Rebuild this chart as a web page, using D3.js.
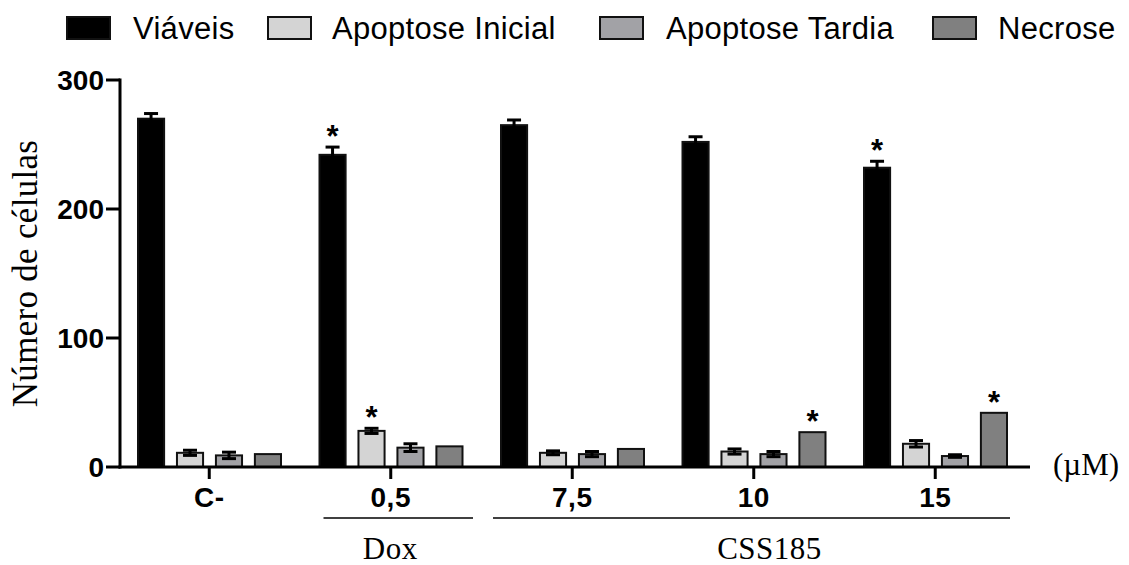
<!DOCTYPE html>
<html>
<head>
<meta charset="utf-8">
<script src="https://cdn.jsdelivr.net/npm/d3@7"></script>
<style>
  body { margin: 0; background: #fff; }
  svg { display: block; }
</style>
</head>
<body>
<div id="chart"></div>
<script>
// groups (concentration, µM) and series
const groups  = ["C-", "0,5", "7,5", "10", "15"];
const series  = ["Viáveis", "Apoptose Inicial", "Apoptose Tardia", "Necrose"];

// mean values per series, one per group
const viaveis      = [270, 242, 265, 252, 232];
const viaveisErr   = [4, 6, 4, 4, 5];
const inicial      = [11, 28, 11, 12, 18];
const inicialErr   = [2, 2, 1.5, 2, 2.5];
const tardia       = [9, 15, 10, 10, 8.5];
const tardiaErr    = [2.5, 3, 2, 2, 1];
const necrose      = [10, 16, 14, 27, 42];
const necroseErr   = [0, 0, 0, 0, 0];

// significance marks: [group, series]
const stars = [["0,5", "Viáveis"], ["0,5", "Apoptose Inicial"], ["10", "Necrose"],
               ["15", "Viáveis"], ["15", "Necrose"]];

const yTicks = [0, 100, 200, 300];

const colors = {
  "Viáveis": "#000000",
  "Apoptose Inicial": "#d4d4d4",
  "Apoptose Tardia": "#a2a2a6",
  "Necrose": "#808080"
};

const values = { "Viáveis": viaveis, "Apoptose Inicial": inicial, "Apoptose Tardia": tardia, "Necrose": necrose };
const errors = { "Viáveis": viaveisErr, "Apoptose Inicial": inicialErr, "Apoptose Tardia": tardiaErr, "Necrose": necroseErr };

const rows = [];
groups.forEach((g, i) => {
  series.forEach(s => rows.push({ group: g, series: s, value: values[s][i], err: errors[s][i] }));
});

const W = 1129, H = 565;
const svg = d3.select("#chart").append("svg")
  .attr("width", W).attr("height", H);

const SANS  = "'Liberation Sans', Arial, sans-serif";
const SERIF = "'Liberation Serif', 'Times New Roman', serif";

// scales
const x0 = d3.scaleBand().domain(groups).range([118.5, 1026]).padding(0);
const x1 = d3.scaleBand().domain(series).range([19.5, 162.5]).paddingInner(0.33);
const y  = d3.scaleLinear().domain([0, 300]).range([467, 80]);

const axisX0 = 120, axisXEnd = 1030;

// bars
svg.append("g")
  .selectAll("rect")
  .data(rows)
  .join("rect")
    .attr("x", d => x0(d.group) + x1(d.series))
    .attr("y", d => y(d.value))
    .attr("width", x1.bandwidth())
    .attr("height", d => y(0) - y(d.value))
    .attr("fill", d => colors[d.series])
    .attr("stroke", "#111")
    .attr("stroke-width", 2);

// error bars
const eb = svg.append("g").attr("stroke", "#000").attr("stroke-width", 3);
rows.filter(d => d.err > 0).forEach(d => {
  const cx = x0(d.group) + x1(d.series) + x1.bandwidth() / 2;
  const top = y(d.value + d.err), bot = y(d.value - d.err);
  eb.append("line").attr("x1", cx).attr("x2", cx).attr("y1", top).attr("y2", bot);
  eb.append("line").attr("x1", cx - 7).attr("x2", cx + 7).attr("y1", top).attr("y2", top);
  eb.append("line").attr("x1", cx - 7).attr("x2", cx + 7).attr("y1", bot).attr("y2", bot);
});

// stars
svg.append("g")
  .selectAll("text")
  .data(stars)
  .join("text")
    .attr("x", d => x0(d[0]) + x1(d[1]) + x1.bandwidth() / 2)
    .attr("y", d => {
      const r = rows.find(r => r.group === d[0] && r.series === d[1]);
      return y(r.value + r.err);
    })
    .attr("text-anchor", "middle")
    .style("font", `bold 31px ${SANS}`)
    .text("*");

// y axis
const yAxis = svg.append("g");
yAxis.append("line")
  .attr("x1", axisX0).attr("x2", axisX0)
  .attr("y1", y(300) - 1.5).attr("y2", y(0) + 1.5)
  .attr("stroke", "#000").attr("stroke-width", 3);
yAxis.selectAll("line.tick")
  .data(yTicks)
  .join("line")
    .attr("class", "tick")
    .attr("x1", axisX0 - 14).attr("x2", axisX0)
    .attr("y1", d => y(d)).attr("y2", d => y(d))
    .attr("stroke", "#000").attr("stroke-width", 3);
yAxis.selectAll("text")
  .data(yTicks)
  .join("text")
    .attr("x", axisX0 - 16)
    .attr("y", d => y(d))
    .attr("dy", "0.36em")
    .attr("text-anchor", "end")
    .style("font", `bold 28px ${SANS}`)
    .text(d => d);

// x axis
const xAxis = svg.append("g");
xAxis.append("line")
  .attr("x1", axisX0 - 1.5).attr("x2", axisXEnd)
  .attr("y1", y(0)).attr("y2", y(0))
  .attr("stroke", "#000").attr("stroke-width", 3);
xAxis.selectAll("line.tick")
  .data(groups)
  .join("line")
    .attr("class", "tick")
    .attr("x1", d => x0(d) + x0.bandwidth() / 2)
    .attr("x2", d => x0(d) + x0.bandwidth() / 2)
    .attr("y1", y(0)).attr("y2", y(0) + 12)
    .attr("stroke", "#000").attr("stroke-width", 3);
xAxis.selectAll("text")
  .data(groups)
  .join("text")
    .attr("x", d => x0(d) + x0.bandwidth() / 2)
    .attr("y", 507)
    .attr("text-anchor", "middle")
    .style("font", `bold 28px ${SANS}`)
    .style("letter-spacing", "0.5px")
    .text(d => d);

// unit
svg.append("text")
  .attr("x", 1086).attr("y", 475)
  .attr("text-anchor", "middle")
  .style("font", `31px ${SERIF}`)
  .text("(µM)");

// y axis title
svg.append("text")
  .attr("transform", `translate(37,${(y(0) + y(300)) / 2}) rotate(-90)`)
  .attr("text-anchor", "middle")
  .style("font", `35px ${SERIF}`)
  .style("letter-spacing", "0.3px")
  .text("Número de células");

// treatment brackets
const treat = [
  { label: "Dox",    x1: x0("0,5") + 23.5, x2: x0("0,5") + x0.bandwidth() - 8.5, dx: -8 },
  { label: "CSS185", x1: x0("7,5") + 11.5, x2: x0("15") + x0.bandwidth() - 16, dx: 18 }
];
const tg = svg.append("g");
tg.selectAll("line")
  .data(treat)
  .join("line")
    .attr("x1", d => d.x1).attr("x2", d => d.x2)
    .attr("y1", 518).attr("y2", 518)
    .attr("stroke", "#000").attr("stroke-width", 1.5);
tg.selectAll("text")
  .data(treat)
  .join("text")
    .attr("x", d => (d.x1 + d.x2) / 2 + d.dx)
    .attr("y", 559)
    .attr("text-anchor", "middle")
    .style("font", `31px ${SERIF}`)
    .style("letter-spacing", "0.5px")
    .text(d => d.label);

// legend
const legendSwatchX = [67, 268, 600, 933];
const legendTextX   = [133, 332, 666, 998];
const lg = svg.append("g");
series.forEach((s, i) => {
  lg.append("rect")
    .attr("x", legendSwatchX[i]).attr("y", 17)
    .attr("width", 43).attr("height", 22)
    .attr("fill", colors[s])
    .attr("stroke", "#111").attr("stroke-width", 2);
  lg.append("text")
    .attr("x", legendTextX[i]).attr("y", 39)
    .style("font", `31px ${SANS}`)
    .style("letter-spacing", "0.3px")
    .text(s);
});
</script>
</body>
</html>
